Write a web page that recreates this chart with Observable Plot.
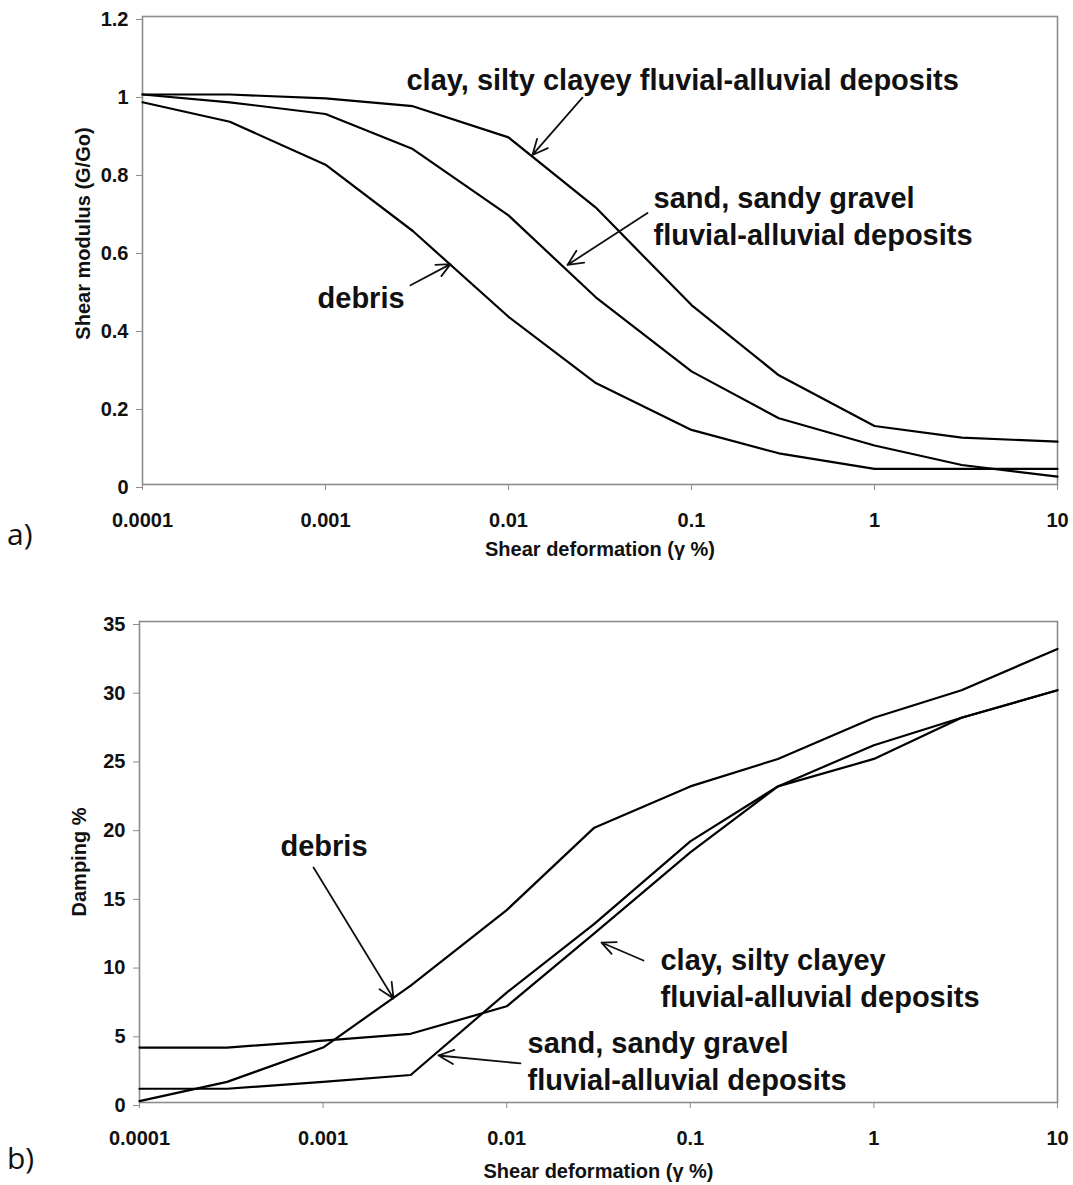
<!DOCTYPE html>
<html>
<head>
<meta charset="utf-8">
<script src="https://cdn.jsdelivr.net/npm/d3@7"></script>
<script src="https://cdn.jsdelivr.net/npm/@observablehq/plot@0.6"></script>
<style>
  html, body { margin: 0; padding: 0; background: #fff; }
  #figure { position: relative; width: 1073px; height: 1185px; background: #fff; overflow: hidden; }
  .panel { position: absolute; left: 0; }
  .tag { position: absolute; left: 7px; font-family: "Open Sans", "Noto Sans", sans-serif; font-size: 30px; line-height: 30px; color: #111; }
</style>
</head>
<body>
<div id="figure">
  <div id="panelA" class="panel" style="top:0px"></div>
  <div id="panelB" class="panel" style="top:590px"></div>
  <div class="tag" style="top:519px">a)</div>
  <div class="tag" style="top:1143px">b)</div>
</div>
<script>
// Shear strain (%) at which each curve is tabulated
const strain = [0.0001, 0.0003, 0.001, 0.003, 0.01, 0.03, 0.1, 0.3, 1, 3, 10];

// a) normalised shear modulus G/Go
const modulusClay   = [1.00, 1.00, 0.99, 0.97, 0.89, 0.71, 0.46, 0.28, 0.15, 0.12, 0.11];
const modulusSand   = [1.00, 0.98, 0.95, 0.86, 0.69, 0.48, 0.29, 0.17, 0.10, 0.05, 0.02];
const modulusDebris = [0.98, 0.93, 0.82, 0.65, 0.43, 0.26, 0.14, 0.08, 0.04, 0.04, 0.04];

// b) damping ratio (%)
const dampingClay   = [4, 4, 4.5, 5, 7, 12.3, 18.2, 23, 25, 28, 30];
const dampingSand   = [1, 1, 1.5, 2, 8, 13, 19, 23, 26, 28, 30];
const dampingDebris = [0.1, 1.5, 4, 8.5, 14, 20, 23, 25, 28, 30, 33];

// Axis ticks
const xTickValues = [0.0001, 0.001, 0.01, 0.1, 1, 10];
const xTickLabels = ["0.0001", "0.001", "0.01", "0.1", "1", "10"];
const yTicksModulus = [0, 0.2, 0.4, 0.6, 0.8, 1, 1.2];
const yLabelsModulus = ["0", "0.2", "0.4", "0.6", "0.8", "1", "1.2"];
const yTicksDamping = [0, 5, 10, 15, 20, 25, 30, 35];

// Soil names used for the curve labels
const soilClay = "clay, silty clayey fluvial-alluvial deposits";
const soilClay2 = "clay, silty clayey\nfluvial-alluvial deposits";
const soilSand = "sand, sandy gravel\nfluvial-alluvial deposits";
const soilDebris = "debris";

// Curve labels and pointer arrows (in strain / value units)
const labelsModulus = [
  {x: 0.00277, y: 1.043, text: soilClay},
  {x: 0.0620, y: 0.691, text: soilSand},
  {x: 0.000905, y: 0.483, text: soilDebris}
];
const arrowsModulus = [
  {x1: 0.02535, y1: 0.992, x2: 0.01352, y2: 0.845},
  {x1: 0.05749, y1: 0.696, x2: 0.02101, y2: 0.563},
  {x1: 0.002913, y1: 0.511, x2: 0.004819, y2: 0.565}
];
const labelsDamping = [
  {x: 0.000586, y: 18.77, text: soilDebris},
  {x: 0.0688, y: 9.17, text: soilClay2},
  {x: 0.01298, y: 3.09, text: soilSand}
];
const arrowsDamping = [
  {x1: 0.000887, y1: 17.10, x2: 0.002418, y2: 7.57},
  {x1: 0.05559, y1: 10.33, x2: 0.03283, y2: 11.64},
  {x1: 0.01189, y1: 2.84, x2: 0.004251, y2: 3.42}
];

const FONT = "'Liberation Sans', Arial, Helvetica, sans-serif";

function toRows(series) {
  return series.flatMap(([soil, values]) =>
    values.map((v, i) => ({soil, strain: strain[i], value: v})));
}

function panel(o) {
  return Plot.plot({
    width: 1073,
    height: o.height,
    marginLeft: o.left,
    marginRight: 16,
    marginTop: o.top,
    marginBottom: o.bottom,
    style: {fontFamily: FONT, fontWeight: "bold", fontSize: "20px", color: "#111", background: "transparent", overflow: "visible"},
    x: {type: "log", domain: [0.0001, 10]},
    y: {domain: o.yDomain},
    marks: [
      Plot.frame({stroke: "#8c8c8c", strokeWidth: 1.6}),
      Plot.axisY({
        ticks: o.yTicks, tickFormat: o.yFormat, tickSize: 6, tickPadding: 8,
        stroke: "#8c8c8c", fill: "#111", fontSize: 20, dy: 3, label: null
      }),
      Plot.axisX({
        ticks: xTickValues, tickFormat: d => xTickLabels[xTickValues.indexOf(d)],
        tickSize: 6, tickPadding: 22, stroke: "#8c8c8c", fill: "#111", fontSize: 20, label: null
      }),
      Plot.line(o.rows, {x: "strain", y: "value", z: "soil", stroke: "#000", strokeWidth: 2.2}),
      Plot.arrow(o.arrows, {
        x1: "x1", y1: "y1", x2: "x2", y2: "y2",
        stroke: "#111", strokeWidth: 1.8, headLength: 14, headAngle: 50
      }),
      Plot.text(o.labels, {
        x: "x", y: "y", text: "text", textAnchor: "start", lineAnchor: "middle",
        fontSize: 29, fontWeight: "bold", lineHeight: 1.28, fill: "#111"
      }),
      Plot.text([o.xTitle], {
        frameAnchor: "bottom", dy: o.xTitleDy, text: d => d, textAnchor: "middle",
        fontSize: 20, fontWeight: "bold", fill: "#111", lineAnchor: "middle"
      }),
      Plot.text([o.yTitle], {
        frameAnchor: "left", dx: o.yTitleDx, dy: o.yTitleDy, rotate: -90, text: d => d,
        textAnchor: "middle", fontSize: 20, fontWeight: "bold", fill: "#111", lineAnchor: "middle"
      })
    ]
  });
}

const chartA = panel({
  height: 580, left: 142, top: 16, bottom: 96,
  yDomain: [0, 1.2],
  yTicks: yTicksModulus,
  yFormat: d => yLabelsModulus[yTicksModulus.indexOf(d)],
  rows: toRows([[soilClay, modulusClay], [soilSand, modulusSand], [soilDebris, modulusDebris]]),
  labels: labelsModulus,
  arrows: arrowsModulus,
  xTitle: "Shear deformation (γ %)", xTitleDy: 65,
  yTitle: "Shear modulus (G/Go)", yTitleDx: -59, yTitleDy: -17
});

const chartB = panel({
  height: 595, left: 139, top: 31, bottom: 83,
  yDomain: [0, 35],
  yTicks: yTicksDamping,
  yFormat: d => String(d),
  rows: toRows([[soilClay, dampingClay], [soilSand, dampingSand], [soilDebris, dampingDebris]]),
  labels: labelsDamping,
  arrows: arrowsDamping,
  xTitle: "Shear deformation (γ %)", xTitleDy: 69,
  yTitle: "Damping %", yTitleDx: -60, yTitleDy: 0
});

document.getElementById("panelA").appendChild(chartA);
document.getElementById("panelB").appendChild(chartB);
</script>
</body>
</html>
